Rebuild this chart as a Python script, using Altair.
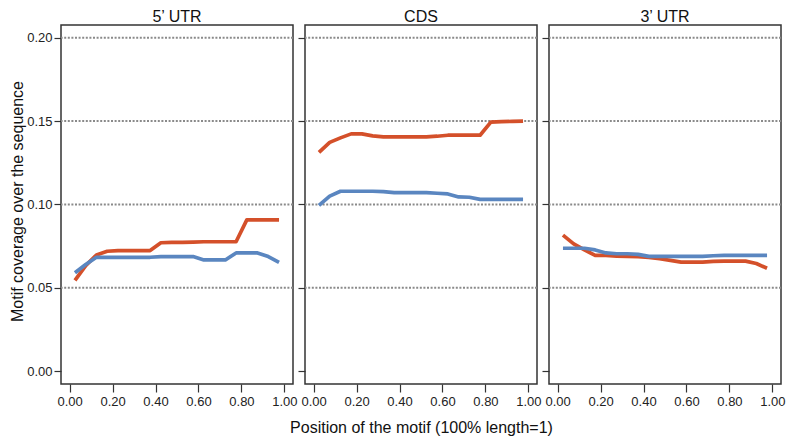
import altair as alt
import pandas as pd

# ---- data ----
positions = [0.025, 0.075, 0.125, 0.175, 0.225, 0.275, 0.325, 0.375, 0.425, 0.475,
             0.525, 0.575, 0.625, 0.675, 0.725, 0.775, 0.825, 0.875, 0.925, 0.975]

panels = ["5\u2019 UTR", "CDS", "3\u2019 UTR"]
series_names = ["A", "B"]  # A = orange-red, B = blue

utr5_red = [0.0544, 0.0633, 0.0697, 0.0719, 0.0723, 0.0723, 0.0723, 0.0723, 0.0770, 0.0772,
            0.0772, 0.0774, 0.0776, 0.0776, 0.0776, 0.0776, 0.0907, 0.0907, 0.0907, 0.0907]
utr5_blue = [0.0590, 0.0640, 0.0683, 0.0683, 0.0683, 0.0683, 0.0683, 0.0683, 0.0687, 0.0687,
             0.0687, 0.0687, 0.0667, 0.0667, 0.0667, 0.0709, 0.0709, 0.0709, 0.0687, 0.0653]

cds_red = [0.1312, 0.1372, 0.1399, 0.1423, 0.1423, 0.1411, 0.1405, 0.1405, 0.1405, 0.1405,
           0.1405, 0.1409, 0.1415, 0.1415, 0.1415, 0.1415, 0.1494, 0.1496, 0.1498, 0.1500]
cds_blue = [0.0994, 0.1050, 0.1079, 0.1079, 0.1079, 0.1079, 0.1077, 0.1071, 0.1071, 0.1071,
            0.1071, 0.1067, 0.1063, 0.1045, 0.1043, 0.1030, 0.1030, 0.1030, 0.1030, 0.1030]

utr3_red = [0.0816, 0.0763, 0.0727, 0.0694, 0.0694, 0.0690, 0.0688, 0.0686, 0.0682, 0.0674,
            0.0664, 0.0654, 0.0654, 0.0654, 0.0658, 0.0660, 0.0660, 0.0660, 0.0646, 0.0617]
utr3_blue = [0.0737, 0.0737, 0.0737, 0.0727, 0.0709, 0.0704, 0.0704, 0.0700, 0.0688, 0.0688,
             0.0688, 0.0688, 0.0688, 0.0688, 0.0692, 0.0694, 0.0694, 0.0694, 0.0694, 0.0694]

grid_values = [0.05, 0.10, 0.15, 0.20]
y_ticks = [0.00, 0.05, 0.10, 0.15, 0.20]
x_ticks = [0.0, 0.2, 0.4, 0.6, 0.8, 1.0]

series_colors = ["#d4502a", "#5a86c0"]

panel_data = {
    panels[0]: (utr5_red, utr5_blue),
    panels[1]: (cds_red, cds_blue),
    panels[2]: (utr3_red, utr3_blue),
}

FONT = "Liberation Sans"
W, H = 232, 359

x_scale = alt.Scale(domain=[-0.04, 1.04], nice=False, zero=False)
y_scale = alt.Scale(domain=[-0.0077, 0.2076], nice=False, zero=False)
color_scale = alt.Scale(domain=series_names, range=series_colors)


def make_panel(i, name):
    red, blue = panel_data[name]
    rows = []
    for s, vals in zip(series_names, (red, blue)):
        for x, y in zip(positions, vals):
            rows.append({"panel": name, "series": s, "pos": x, "cov": y})
    df = pd.DataFrame(rows)
    grid_df = pd.DataFrame({"g": grid_values})

    x_axis = alt.Axis(
        values=x_ticks, format=".2f", domain=False, grid=False,
        tickSize=8, tickColor="#333", tickWidth=1.2, labelPadding=3,
        labelFontSize=13, labelFont=FONT, labelColor="#222",
        title="Position of the motif (100% length=1)" if i == 1 else None,
        titleFontSize=16, titleFont=FONT, titleFontWeight="normal",
        titleColor="#111", titlePadding=11,
    )
    if i == 0:
        y_axis = alt.Axis(
            values=y_ticks, format=".2f", domain=False, grid=False,
            tickSize=7, tickColor="#333", tickWidth=1.2, labelPadding=2,
            labelFontSize=13, labelFont=FONT, labelColor="#222",
            title="Motif coverage over the sequence",
            titleFontSize=16, titleFont=FONT, titleFontWeight="normal",
            titleColor="#111", titlePadding=1, titleY=176,
        )
    else:
        y_axis = alt.Axis(
            values=y_ticks, domain=False, grid=False, labels=False,
            tickSize=7, tickColor="#333", tickWidth=1.2, title=None,
        )

    grid = alt.Chart(grid_df).mark_rule(
        color="#8a8a8a", strokeWidth=2, strokeDash=[2, 1.6]
    ).encode(y=alt.Y("g:Q", scale=y_scale, axis=y_axis))

    lines = alt.Chart(df).mark_line(strokeWidth=3.7, strokeCap="butt", strokeJoin="round").encode(
        x=alt.X("pos:Q", scale=x_scale, axis=x_axis),
        y=alt.Y("cov:Q", scale=y_scale, axis=y_axis),
        color=alt.Color("series:N", scale=color_scale, legend=None),
        order=alt.Order("pos:Q"),
    )

    return alt.layer(grid, lines).properties(
        width=W, height=H,
        title=alt.TitleParams(name, fontSize=16, font=FONT, fontWeight="normal",
                              color="#111", anchor="middle", offset=0),
    )


chart = alt.hconcat(*[make_panel(i, n) for i, n in enumerate(panels)],
                    spacing=12, bounds="flush").properties(
    padding=0
).configure_view(
    stroke="#333", strokeWidth=1.5
)

chart.save("out.html", embed_options={"renderer": "svg", "actions": False})
